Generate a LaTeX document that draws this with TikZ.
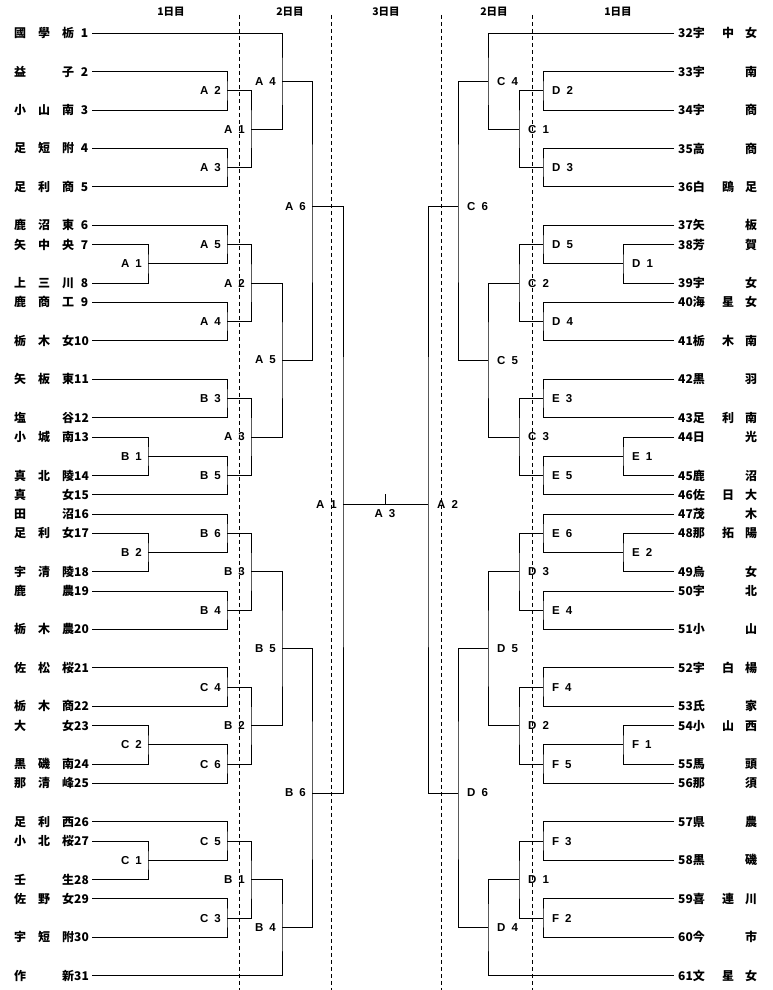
\documentclass[tikz,border=0pt]{standalone}
\usepackage{fontspec}
\newfontfamily\jpfont{Noto Sans CJK JP}
\newfontfamily\lblfont{Liberation Sans}
\usetikzlibrary{positioning}

% team names: three character slots and the draw number
\newcommand\lname[4]{\makebox[24pt][l]{#1}\makebox[24pt][l]{#2}\makebox[26pt][l]{#3\hfill#4}}
\newcommand\rname[4]{\makebox[26pt][l]{#1\hfill#2}\hspace{18pt}\makebox[23pt][l]{#3}#4}
\newcommand\gapped[2]{#1\kern6pt#2}

\begin{document}
\begin{tikzpicture}[x=1pt,y=-19.24pt,
  team/.style={anchor=west,inner xsep=4pt,inner ysep=1pt,
    font=\jpfont\fontsize{12}{12}\selectfont\bfseries},
  lbl/.style={inner sep=0pt,font=\lblfont\fontsize{11.5}{12}\selectfont\bfseries},
  day/.style={font=\jpfont\fontsize{10.5}{11}\selectfont\bfseries},
  bracket/.style={line width=0.9pt},
  daybreak/.style={line width=0.8pt,dash pattern=on 4pt off 3pt}]
\fill[white] (0,-1.715) rectangle (772,49.74);
\useasboundingbox (0,-1.715) rectangle (772,49.74);

% day headers and day breaks
\node[day] (hd1) at (171,-1.09) {1日目};
\node[day] (hd2) at (290,-1.09) {2日目};
\node[day] (hd3) at (386,-1.09) {3日目};
\node[day] (hd4) at (494,-1.09) {2日目};
\node[day] (hd5) at (618,-1.09) {1日目};
\foreach \x in {239,331,441,532}
  \draw[daybreak] (\x,-0.94) -- (\x,49.74);

% left half
\foreach \k/\a/\b/\c/\n in {0/國/學/栃/1, 2/益//子/2, 4/小/山/南/3, 6/足/短/附/4,
    8/足/利/商/5, 10/鹿/沼/東/6, 11/矢/中/央/7, 13/上/三/川/8, 14/鹿/商/工/9,
    16/栃/木/女/10, 18/矢/板/東/11, 20/塩//谷/12, 21/小/城/南/13, 23/真/北/陵/14,
    24/真//女/15, 25/田//沼/16, 26/足/利/女/17, 28/宇/清/陵/18, 29/鹿//農/19,
    31/栃/木/農/20, 33/佐/松/桜/21, 35/栃/木/商/22, 36/大//女/23, 38/黒/磯/南/24,
    39/那/清/峰/25, 41/足/利/西/26, 42/小/北/桜/27, 44/壬//生/28, 45/佐/野/女/29,
    47/宇/短/附/30, 49/作//新/31}
  \node[team] (t\n) at (10,\k) {\lname{\a}{\b}{\c}{\n}};

\foreach \nm/\x/\k/\a/\b in {l1A1/148/12/A/1, l1B1/148/22/B/1, l1B2/148/27/B/2,
    l1C2/148/37/C/2, l1C1/148/43/C/1,
    l2A2/227/3/A/2, l2A3/227/7/A/3, l2A5/227/11/A/5, l2A4/227/15/A/4,
    l2B3/227/19/B/3, l2B5/227/23/B/5, l2B6/227/26/B/6, l2B4/227/30/B/4,
    l2C4/227/34/C/4, l2C6/227/38/C/6, l2C5/227/42/C/5, l2C3/227/46/C/3,
    l3A1/251/5/A/1, l3A2/251/13/A/2, l3A3/251/21/A/3, l3B3/251/28/B/3,
    l3B2/251/36/B/2, l3B1/251/44/B/1,
    l4A4/282/2.5/A/4, l4A5/282/17/A/5, l4B5/282/32/B/5, l4B4/282/46.5/B/4,
    l5A6/312/9/A/6, l5B6/312/39.5/B/6, l6A1/343/24.5/A/1}
{
  \coordinate (\nm) at (\x,\k);
  \node[lbl,left=6pt of \nm] (\nm-lbl) {\gapped{\a}{\b}};
}

\foreach \m/\p/\q in {l1A1/t7/t8, l1B1/t13/t14, l1B2/t17/t18, l1C2/t23/t24, l1C1/t27/t28,
    l2A2/t2/t3, l2A3/t4/t5, l2A5/t6/l1A1, l2A4/t9/t10, l2B3/t11/t12, l2B5/l1B1/t15,
    l2B6/t16/l1B2, l2B4/t19/t20, l2C4/t21/t22, l2C6/l1C2/t25, l2C5/t26/l1C1, l2C3/t29/t30,
    l3A1/l2A2/l2A3, l3A2/l2A5/l2A4, l3A3/l2B3/l2B5, l3B3/l2B6/l2B4, l3B2/l2C4/l2C6,
    l3B1/l2C5/l2C3, l4A4/t1/l3A1, l4A5/l3A2/l3A3, l4B5/l3B3/l3B2, l4B4/l3B1/t31,
    l5A6/l4A4/l4A5, l5B6/l4B5/l4B4, l6A1/l5A6/l5B6}
  \draw[bracket] (\p) -| (\m) |- (\q);

% right half
\foreach \k/\n/\a/\b/\c in {0/32/宇/中/女, 2/33/宇//南, 4/34/宇//商, 6/35/高//商,
    8/36/白/鴎/足, 10/37/矢//板, 11/38/芳//賀, 13/39/宇//女, 14/40/海/星/女,
    16/41/栃/木/南, 18/42/黒//羽, 20/43/足/利/南, 21/44/日//光, 23/45/鹿//沼,
    24/46/佐/日/大, 25/47/茂//木, 26/48/那/拓/陽, 28/49/烏//女, 29/50/宇//北,
    31/51/小//山, 33/52/宇/白/楊, 35/53/氏//家, 36/54/小/山/西, 38/55/馬//頭,
    39/56/那//須, 41/57/県//農, 43/58/黒//磯, 45/59/喜/連/川, 47/60/今//市,
    49/61/文/星/女}
  \node[team] (t\n) at (674,\k) {\rname{\n}{\a}{\b}{\c}};

\foreach \nm/\x/\k/\a/\b in {r1D1/623/12/D/1, r1E1/623/22/E/1, r1E2/623/27/E/2,
    r1F1/623/37/F/1,
    r2D2/543/3/D/2, r2D3/543/7/D/3, r2D5/543/11/D/5, r2D4/543/15/D/4,
    r2E3/543/19/E/3, r2E5/543/23/E/5, r2E6/543/26/E/6, r2E4/543/30/E/4,
    r2F4/543/34/F/4, r2F5/543/38/F/5, r2F3/543/42/F/3, r2F2/543/46/F/2,
    r3C1/519/5/C/1, r3C2/519/13/C/2, r3C3/519/21/C/3, r3D3/519/28/D/3,
    r3D2/519/36/D/2, r3D1/519/44/D/1,
    r4C4/488/2.5/C/4, r4C5/488/17/C/5, r4D5/488/32/D/5, r4D4/488/46.5/D/4,
    r5C6/458/9/C/6, r5D6/458/39.5/D/6, r6A2/428/24.5/A/2}
{
  \coordinate (\nm) at (\x,\k);
  \node[lbl,right=9pt of \nm] (\nm-lbl) {\gapped{\a}{\b}};
}

\foreach \m/\p/\q in {r1D1/t38/t39, r1E1/t44/t45, r1E2/t48/t49, r1F1/t54/t55,
    r2D2/t33/t34, r2D3/t35/t36, r2D5/t37/r1D1, r2D4/t40/t41, r2E3/t42/t43,
    r2E5/r1E1/t46, r2E6/t47/r1E2, r2E4/t50/t51, r2F4/t52/t53, r2F5/r1F1/t56,
    r2F3/t57/t58, r2F2/t59/t60,
    r3C1/r2D2/r2D3, r3C2/r2D5/r2D4, r3C3/r2E3/r2E5, r3D3/r2E6/r2E4, r3D2/r2F4/r2F5,
    r3D1/r2F3/r2F2, r4C4/t32/r3C1, r4C5/r3C2/r3C3, r4D5/r3D3/r3D2, r4D4/r3D1/t61,
    r5C6/r4C4/r4C5, r5D6/r4D5/r4D4, r6A2/r5C6/r5D6}
  \draw[bracket] (\p) -| (\m) |- (\q);

% final
\draw[bracket] (l6A1) -- (r6A2);
\coordinate (fin) at (385,24.5);
\draw[bracket] (fin) -- ++(0,-0.52);
\node[lbl,below=5pt of fin] (fin-lbl) {\gapped{A}{3}};
\end{tikzpicture}
\end{document}
